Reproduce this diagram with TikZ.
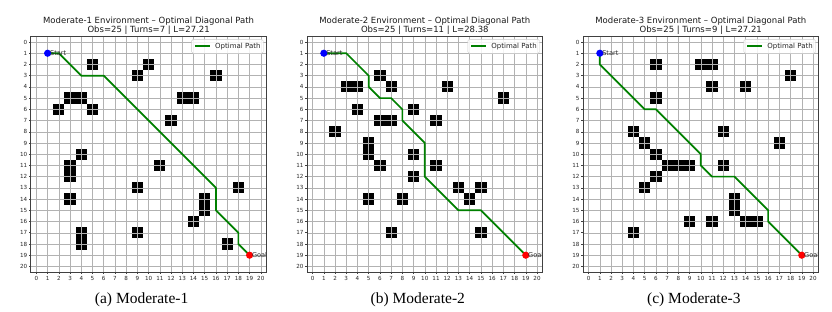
\documentclass[tikz,border=0pt]{standalone}
\usepackage{fontspec}
\setmainfont{DejaVu Sans}
\newfontfamily\capfont{Liberation Serif}
\definecolor{pgreen}{HTML}{008000}
\definecolor{pblue}{HTML}{0000FF}
\definecolor{pred}{HTML}{FF0000}
\tikzset{
  obst/.style={fill=black},
  gridl/.style={draw=black!30, line width=0.45pt},
  optpath/.style={draw=pgreen, line width=1.7pt, line join=round},
  mk/.style={inner sep=0pt, font=\fontsize{6.6}{7}\selectfont, text=black!85},
  legbox/.style={draw=black!20, fill=white, fill opacity=0.85, rounded corners=1.5pt, line width=0.4pt},
  legtext/.style={inner sep=0pt, font=\fontsize{7}{8}\selectfont, text=black!85},
  axframe/.style={draw=black!75, line width=0.6pt},
  tickl/.style={draw=black!75, line width=0.5pt},
  ticklab/.style={inner sep=0pt, font=\fontsize{5.6}{6}\selectfont, text=black!85},
  titl/.style={inner sep=0pt, font=\fontsize{8.5}{10}\selectfont, text=black!90},
  capt/.style={inner sep=0pt, font=\capfont\fontsize{15.5}{17}\selectfont, text=black}
}
\newcommand\drawpanel[7]{%
\begin{scope}[shift={(#1pt,-42pt)}, x=11.22pt, y=-11.22pt]
  \foreach \ox/\oy in {#4} \fill[obst] (\ox-0.5,\oy-0.5) rectangle (\ox+0.5,\oy+0.5);
  \foreach \i in {0,...,20} {
    \draw[gridl] (\i,-0.5) -- (\i,20.5);
    \draw[gridl] (-0.5,\i) -- (20.5,\i);
  }
  \draw[optpath] #5;
  \begin{scope}
    \clip (-0.5,-0.5) rectangle (20.5,20.5);
    \fill[pblue] (1,1) circle (3.6pt);
    \fill[pred] (19,19) circle (3.6pt);
    \node[mk, anchor=west] (#2start) at (1.2,1) {Start};
    \node[mk, anchor=west] (#2goal) at (19.2,19) {Goal};
  \end{scope}
  \draw[legbox] (13.84,-0.24) rectangle (20.22,1.01);
  \coordinate (#2la) at (14.13,0.36);
  \coordinate (#2lb) at (15.47,0.36);
  \draw[optpath] (#2la) -- (#2lb);
  \node[legtext, anchor=west] (#2leg) at (15.92,0.38) {Optimal Path};
  \draw[axframe] (-0.5,-0.5) rectangle (20.5,20.5);
  \foreach \i in {0,...,20} {
    \draw[tickl] (\i,20.5) -- (\i,20.7);
    \node[ticklab, anchor=north] (#2xt\i) at (\i,20.83) {\i};
    \draw[tickl] (-0.5,\i) -- (-0.7,\i);
    \node[ticklab, anchor=east] (#2yt\i) at (-0.8,\i) {\i};
  }
  \node[titl, anchor=base] (#2t1) at (10,-1.69) {#7 Environment – Optimal Diagonal Path};
  \node[titl, anchor=base] (#2t2) at (10,-0.87) {#3};
  \node[capt, anchor=base] (#2cap) at (9.38,23.3) {#6};
\end{scope}}

\begin{document}
\begin{tikzpicture}[x=1pt,y=-1pt]
\useasboundingbox[fill=white] (0,0) rectangle (832,311);

\drawpanel{36.4}{a}{Obs=25 | Turns=7 | L=27.21}%
 {5/2,10/2,9/3,16/3,3/5,4/5,13/5,14/5,2/6,5/6,12/7,4/10,11/11,3/11,3/12,9/13,18/13,3/14,15/14,15/15,14/16,9/17,4/17,4/18,17/18}%
 {(1,1) -- (2,1) -- (4,3) -- (6,3) -- (16,13) -- (16,15) -- (18,17) -- (18,18) -- (19,19)}%
 {(a) Moderate-1}{Moderate-1}

\drawpanel{312.6}{b}{Obs=25 | Turns=11 | L=28.38}%
 {6/3,3/4,4/4,7/4,12/4,17/5,4/6,9/6,6/7,7/7,11/7,2/8,5/9,5/10,9/10,6/11,11/11,9/12,13/13,15/13,5/14,8/14,14/14,7/17,15/17}%
 {(1,1) -- (3,1) -- (5,3) -- (5,4) -- (6,5) -- (7,5) -- (8,6) -- (8,7) -- (10,9) -- (10,12) -- (13,15) -- (15,15) -- (19,19)}%
 {(b) Moderate-2}{Moderate-2}

\drawpanel{588.6}{c}{Obs=25 | Turns=9 | L=27.21}%
 {6/2,10/2,11/2,18/3,11/4,14/4,6/5,4/8,12/8,5/9,17/9,6/10,7/11,8/11,9/11,12/11,6/12,5/13,13/14,13/15,4/17,9/16,11/16,14/16,15/16}%
 {(1,1) -- (1,2) -- (5,6) -- (6,6) -- (10,10) -- (10,11) -- (11,12) -- (13,12) -- (16,15) -- (16,16) -- (19,19)}%
 {(c) Moderate-3}{Moderate-3}
\end{tikzpicture}
\end{document}
